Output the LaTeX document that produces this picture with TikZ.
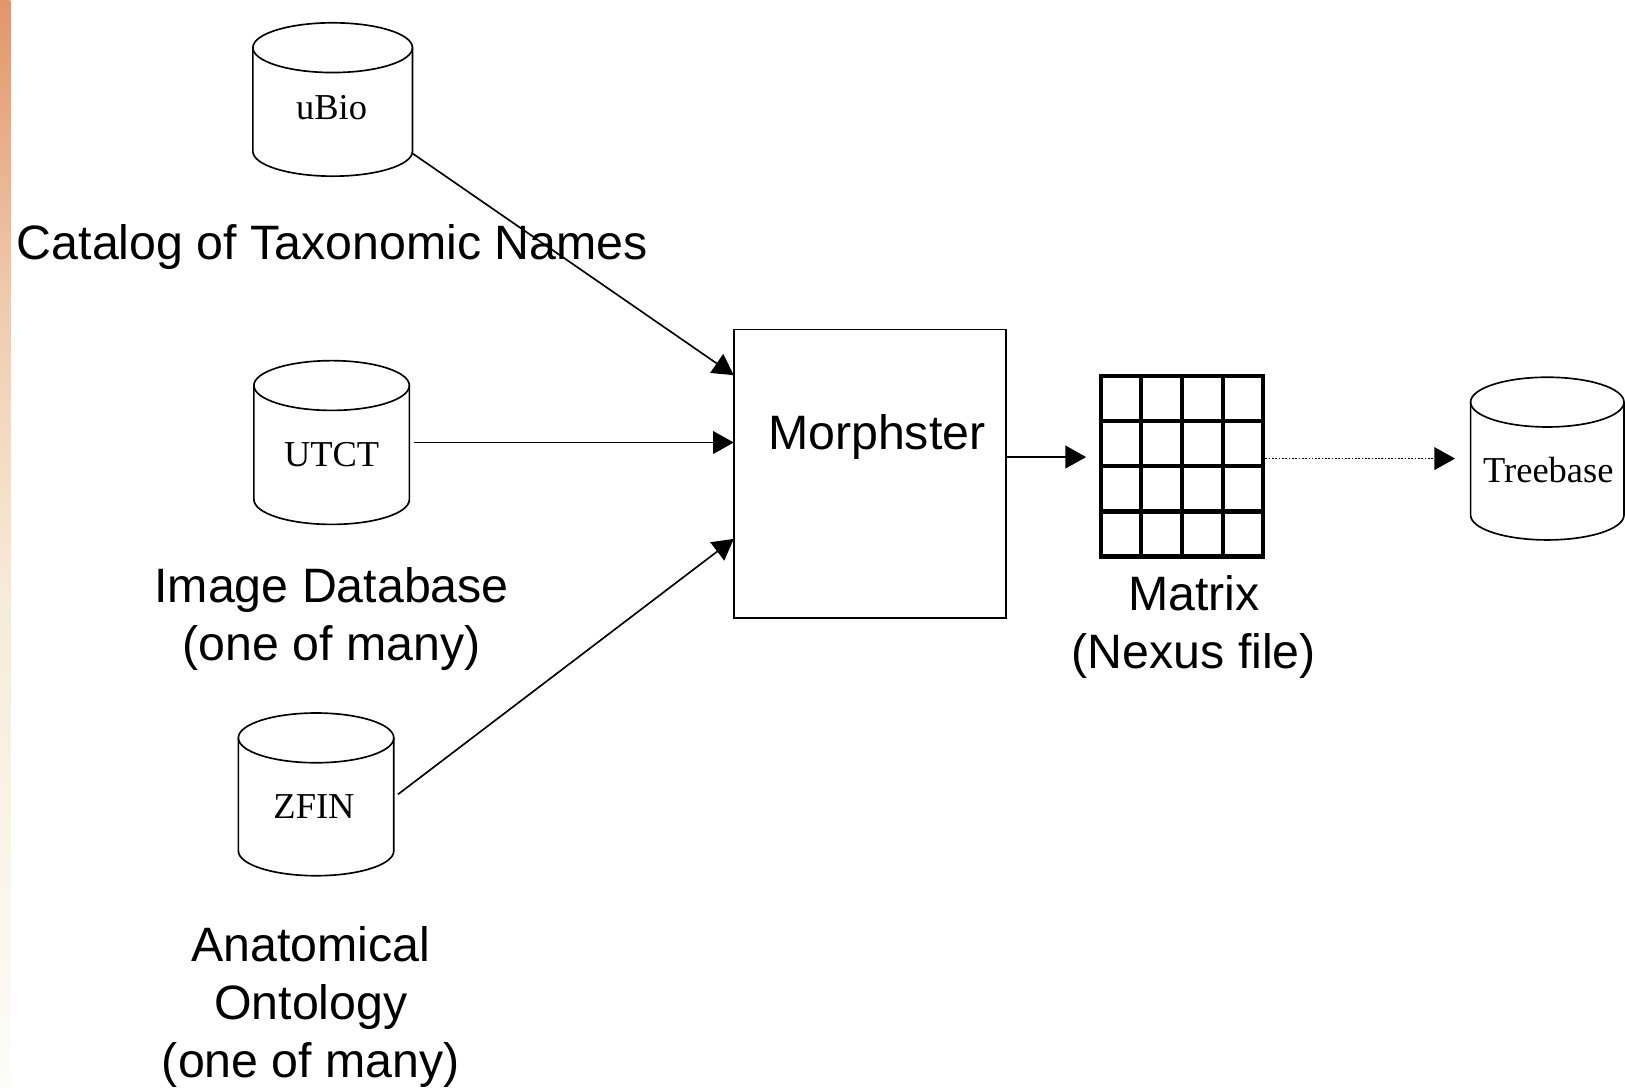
\documentclass[tikz,border=0pt]{standalone}
\usepackage{fontspec}
\setmainfont{Liberation Serif}
\newfontfamily\arialf{Liberation Sans}
\usetikzlibrary{arrows.meta,calc}
\definecolor{gA}{HTML}{E2956A}
\definecolor{gB}{HTML}{EFCBAE}
\definecolor{gC}{HTML}{F7EBD9}
\definecolor{gD}{HTML}{FDFCF8}
\tikzset{
  outl/.style={draw=black, line width=0.8pt},
  conn/.style={line width=0.8pt, -{Triangle[length=10pt,width=11pt]}},
  dotconn/.style={line width=0.7pt, dash pattern=on 0.8pt off 0.8pt, -{Triangle[length=10pt,width=11pt]}},
  cylbox/.style={draw=none, inner sep=0pt, outer sep=0pt},
  procbox/.style={draw=black, line width=0.8pt, inner sep=0pt, outer sep=0pt},
  gridbox/.style={draw=black, line width=2pt, inner sep=0pt, outer sep=0pt},
  gridline/.style={draw=black, line width=2pt},
  dbtext/.style={font=\fontsize{17.6pt}{21pt}\selectfont, inner sep=0pt, anchor=base},
  lbl/.style={font=\arialf\fontsize{23.3pt}{28pt}\selectfont, inner sep=0pt, anchor=base},
}
\newcommand\dbcyl[2]{%
  \draw[outl] ([yshift=-12pt]#1.north west) -- ([yshift=12pt]#1.south west)
     arc[start angle=180, end angle=360, x radius=#2, y radius=12pt] -- ([yshift=-12pt]#1.north east);
  \draw[outl] ([yshift=-12pt]#1.north) ellipse[x radius=#2, y radius=12pt];
}
\begin{document}
\begin{tikzpicture}[x=0.5pt,y=-0.5pt]
\useasboundingbox[fill=white] (0,0) rectangle (1568,1049);
% left gradient strip
\shade[top color=gA, bottom color=gB] (0,0) rectangle (10,290);
\shade[top color=gB, bottom color=gC] (0,290) rectangle (10,580);
\shade[top color=gC, bottom color=gD] (0,580) rectangle (10,1049);

% databases
\node[cylbox, minimum width=77pt, minimum height=74pt] (ubio) at (321,96) {};
\dbcyl{ubio}{38.5pt}
\node[dbtext] (ubiot) at (320,115) {uBio};

\node[cylbox, minimum width=75pt, minimum height=79pt] (utct) at (320,427) {};
\dbcyl{utct}{37.5pt}
\node[dbtext] (utctt) at (320,450) {UTCT};

\node[cylbox, minimum width=75pt, minimum height=78.5pt] (zfin) at (305,766.5) {};
\dbcyl{zfin}{37.5pt}
\node[dbtext] (zfint) at (303,790) {ZFIN};

\node[cylbox, minimum width=74pt, minimum height=78.5pt] (tree) at (1493,442.5) {};
\dbcyl{tree}{37pt}
\node[dbtext] (treet) at (1494,466) {Treebase};

% Morphster
\node[procbox, minimum width=131.5pt, minimum height=139pt] (morph) at (839.5,457) {};
\node[lbl] (morpht) at (846,434) {Morphster};

% matrix grid
\node[gridbox, minimum width=78.5pt, minimum height=87pt] (nexus) at (1140.5,450) {};
\foreach \f in {0.25,0.5,0.75}{
  \draw[gridline] ($(nexus.north west)!\f!(nexus.north east)$) -- ($(nexus.south west)!\f!(nexus.south east)$);
  \draw[gridline] ($(nexus.north west)!\f!(nexus.south west)$) -- ($(nexus.north east)!\f!(nexus.south east)$);
}
\node[lbl] (nexust1) at (1152,589) {Matrix};
\node[lbl] (nexust2) at (1152,645) {(Nexus file)};

% labels
\node[lbl, anchor=base west] (catl) at (16,250) {Catalog of Taxonomic Names};
\node[lbl] (imgl1) at (320,581) {Image Database};
\node[lbl] (imgl2) at (320,637) {(one of many)};
\node[lbl] (anal1) at (300,928) {Anatomical};
\node[lbl] (anal2) at (300,984) {Ontology};
\node[lbl] (anal3) at (300,1040) {(one of many)};

% connectors
\draw[conn] ([yshift=11pt]ubio.south east) -- ([yshift=-22pt]morph.north west);
\draw[conn] ([xshift=2pt]utct.east) -- (utct.east -| morph.west);
\draw[conn] ([xshift=2pt]zfin.east) -- ([yshift=-31.5pt]morph.west);
\draw[conn, shorten >=7pt] ([yshift=8pt]morph.east) -- ([yshift=8pt]morph.east -| nexus.west);
\draw[dotconn, shorten <=1pt, shorten >=7.5pt] (tree.west -| nexus.east) -- (tree.west);
\end{tikzpicture}
\end{document}
